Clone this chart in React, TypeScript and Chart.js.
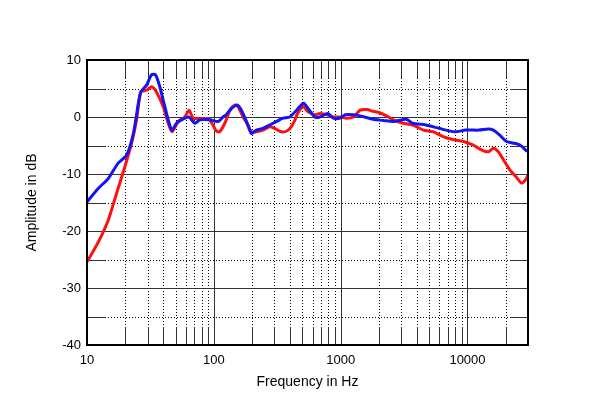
import React, { useEffect, useRef } from "react";
import { Chart, registerables } from "chart.js";

Chart.register(...registerables);

const xTickValues = [10, 100, 1000, 10000];
const yTickValues = [-40, -30, -20, -10, 0, 10];
const yMinorValues = [-35, -25, -15, -5, 5];
const xMinorValues = [20, 30, 40, 50, 60, 70, 80, 90, 200, 300, 400, 500, 600, 700, 800, 900, 2000, 3000, 4000, 5000, 6000, 7000, 8000, 9000, 20000];
const xDecadeValues = [100, 1000, 10000];

const redFreq = [10, 12.3, 14.7, 17.1, 19.9, 22.5, 24.6, 26.6, 29.5, 32.3, 35.3, 39.9, 43.7, 46.9, 52.4, 59, 63.8, 68.7, 77.6, 90, 99, 104, 111, 122, 134, 146, 155, 170, 186, 198, 216, 244, 276, 302, 342, 386, 424, 465, 510, 553, 625, 684, 775, 876, 990, 1114, 1260, 1424, 1611, 1800, 2030, 2300, 2600, 3100, 3700, 4500, 5400, 6500, 7800, 9300, 11000, 13000, 14600, 16000, 17500, 19200, 21600, 24400, 26700, 28700, 30000];
const redDb = [-25.4, -21.9, -18.1, -13.4, -8.7, -4.6, -0.5, 4.4, 4.7, 5.3, 4.4, 1.8, -1.1, -2.6, -0.8, 0, 1.2, -0.2, -0.3, -0.3, -1.5, -2.4, -2.6, -1.1, 1.2, 2.1, 1.8, 0, -1.4, -2.6, -2.6, -2.3, -1.7, -2.0, -2.6, -2.3, -1.1, 0.9, 1.8, 0.9, 0.4, 0.6, 0.4, 0, 0, -0.2, 0, 1.2, 1.3, 1.0, 0.75, 0.2, -0.5, -1.1, -1.4, -2.3, -2.6, -3.5, -4.0, -4.3, -4.9, -5.8, -6.1, -5.5, -6.1, -7.5, -9.3, -10.6, -11.6, -11, -10.2];

const blueFreq = [10, 12.3, 14.7, 17.6, 20.5, 23.2, 25.4, 26.6, 29.5, 32.3, 34.7, 37.5, 41.1, 46.5, 50.8, 55.6, 63.5, 70.9, 77.6, 93, 108, 118, 125, 138, 153, 165, 181, 198, 216, 244, 276, 311, 351, 397, 449, 474, 511, 553, 625, 684, 793, 876, 990, 1085, 1260, 1420, 1800, 2170, 2600, 3300, 3700, 4700, 6000, 7900, 9700, 12300, 14600, 16000, 18000, 20300, 24400, 27000, 29000, 30000];
const blueDb = [-14.9, -12.5, -10.8, -8.1, -6.7, -2.9, 2.4, 4.4, 5.6, 7.4, 7.4, 5.3, 1.8, -2.3, -1.1, -0.5, 0, -1.1, -0.5, -0.5, -0.8, 0, 0.4, 1.5, 2.1, 1.2, -0.8, -2.9, -2.3, -2.0, -1.4, -0.8, -0.2, 0, 1.2, 1.8, 2.4, 1.5, 0, 0, 0.6, -0.2, -0.2, 0.4, 0.4, 0.2, -0.4, -0.6, -0.8, -0.4, -1.1, -1.4, -2.0, -2.6, -2.3, -2.3, -2.1, -2.3, -3.2, -4.3, -4.7, -5.2, -5.9, -6.0];

const FONT = "'Liberation Sans', Arial, sans-serif";
const TICK_SEG = 18;

const gridPlugin = {
  id: "customGrid",
  beforeDatasetsDraw(chart: any) {
    const { ctx, chartArea: a, scales } = chart;
    const xs = scales.x;
    const ys = scales.y;
    ctx.save();
    ctx.lineWidth = 1;
    xMinorValues.forEach((v) => {
      const x = Math.round(xs.getPixelForValue(v)) + 0.5;
      ctx.strokeStyle = "#000";
      ctx.setLineDash([1, 2]);
      ctx.beginPath();
      ctx.moveTo(x, a.top);
      ctx.lineTo(x, a.bottom);
      ctx.stroke();
      ctx.setLineDash([]);
      ctx.strokeStyle = "#333";
      ctx.beginPath();
      ctx.moveTo(x, a.top);
      ctx.lineTo(x, a.top + TICK_SEG);
      ctx.moveTo(x, a.bottom - TICK_SEG);
      ctx.lineTo(x, a.bottom);
      ctx.stroke();
    });
    yMinorValues.forEach((v) => {
      const y = Math.round(ys.getPixelForValue(v)) + 0.5;
      ctx.strokeStyle = "#000";
      ctx.setLineDash([1, 2]);
      ctx.beginPath();
      ctx.moveTo(a.left, y);
      ctx.lineTo(a.right, y);
      ctx.stroke();
      ctx.setLineDash([]);
      ctx.strokeStyle = "#333";
      ctx.beginPath();
      ctx.moveTo(a.left, y);
      ctx.lineTo(a.left + TICK_SEG, y);
      ctx.moveTo(a.right - TICK_SEG, y);
      ctx.lineTo(a.right, y);
      ctx.stroke();
    });
    ctx.setLineDash([]);
    ctx.strokeStyle = "#333";
    xDecadeValues.forEach((v) => {
      const x = Math.round(xs.getPixelForValue(v)) + 0.5;
      ctx.beginPath();
      ctx.moveTo(x, a.top);
      ctx.lineTo(x, a.bottom);
      ctx.stroke();
    });
    yTickValues.forEach((v) => {
      const y = Math.round(ys.getPixelForValue(v)) + 0.5;
      ctx.beginPath();
      ctx.moveTo(a.left, y);
      ctx.lineTo(a.right, y);
      ctx.stroke();
    });
    ctx.restore();
  },
  afterDatasetsDraw(chart: any) {
    const { ctx, chartArea: a } = chart;
    ctx.save();
    ctx.strokeStyle = "#000";
    ctx.lineWidth = 2;
    ctx.strokeRect(a.left, a.top, a.right - a.left, a.bottom - a.top);
    ctx.restore();
  },
};

export default function App() {
  const ref = useRef<HTMLCanvasElement>(null);
  useEffect(() => {
    if (!ref.current) return;
    const chart = new Chart(ref.current, {
      type: "line",
      data: {
        datasets: [
          {
            label: "red",
            data: redFreq.map((f, i) => ({ x: f, y: redDb[i] })),
            borderColor: "#ff1010",
            borderWidth: 3,
            pointRadius: 0,
            tension: 0.25,
            borderJoinStyle: "round",
            order: 2,
          },
          {
            label: "blue",
            data: blueFreq.map((f, i) => ({ x: f, y: blueDb[i] })),
            borderColor: "#1414f0",
            borderWidth: 3,
            pointRadius: 0,
            tension: 0.25,
            borderJoinStyle: "round",
            order: 1,
          },
        ],
      },
      options: {
        animation: false,
        responsive: false,
        devicePixelRatio: 1,
        layout: { padding: { left: 0, right: 72, top: 60, bottom: 0 } },
        plugins: { legend: { display: false }, tooltip: { enabled: false } },
        scales: {
          x: {
            type: "logarithmic",
            min: 10,
            max: 30000,
            grid: { display: false, drawTicks: false },
            border: { display: false },
            afterBuildTicks: (s: any) => {
              s.ticks = xTickValues.map((v) => ({ value: v }));
            },
            afterFit: (s: any) => {
              s.height = 63;
            },
            ticks: {
              autoSkip: false,
              maxRotation: 0,
              padding: 8,
              color: "#000",
              font: { family: FONT, size: 13 },
              callback: (v: any) => String(v),
            },
            title: {
              display: true,
              text: "Frequency in Hz",
              color: "#000",
              font: { family: FONT, size: 14 },
              padding: { top: 0, bottom: 17 },
            },
          },
          y: {
            type: "linear",
            min: -40,
            max: 10,
            grid: { display: false, drawTicks: false },
            border: { display: false },
            afterBuildTicks: (s: any) => {
              s.ticks = yTickValues.map((v) => ({ value: v }));
            },
            afterFit: (s: any) => {
              s.width = 87;
            },
            ticks: {
              padding: 6,
              color: "#000",
              font: { family: FONT, size: 13 },
            },
            title: {
              display: true,
              text: "Amplitude in dB",
              color: "#000",
              font: { family: FONT, size: 14 },
              padding: { top: 24, bottom: 0 },
            },
          },
        },
      },
      plugins: [gridPlugin],
    } as any);
    return () => chart.destroy();
  }, []);
  return (
    <div style={{ position: "fixed", left: 0, top: 0, width: 600, height: 408, background: "#fff" }}>
      <canvas ref={ref} width={600} height={408} style={{ width: 600, height: 408 }} />
    </div>
  );
}
